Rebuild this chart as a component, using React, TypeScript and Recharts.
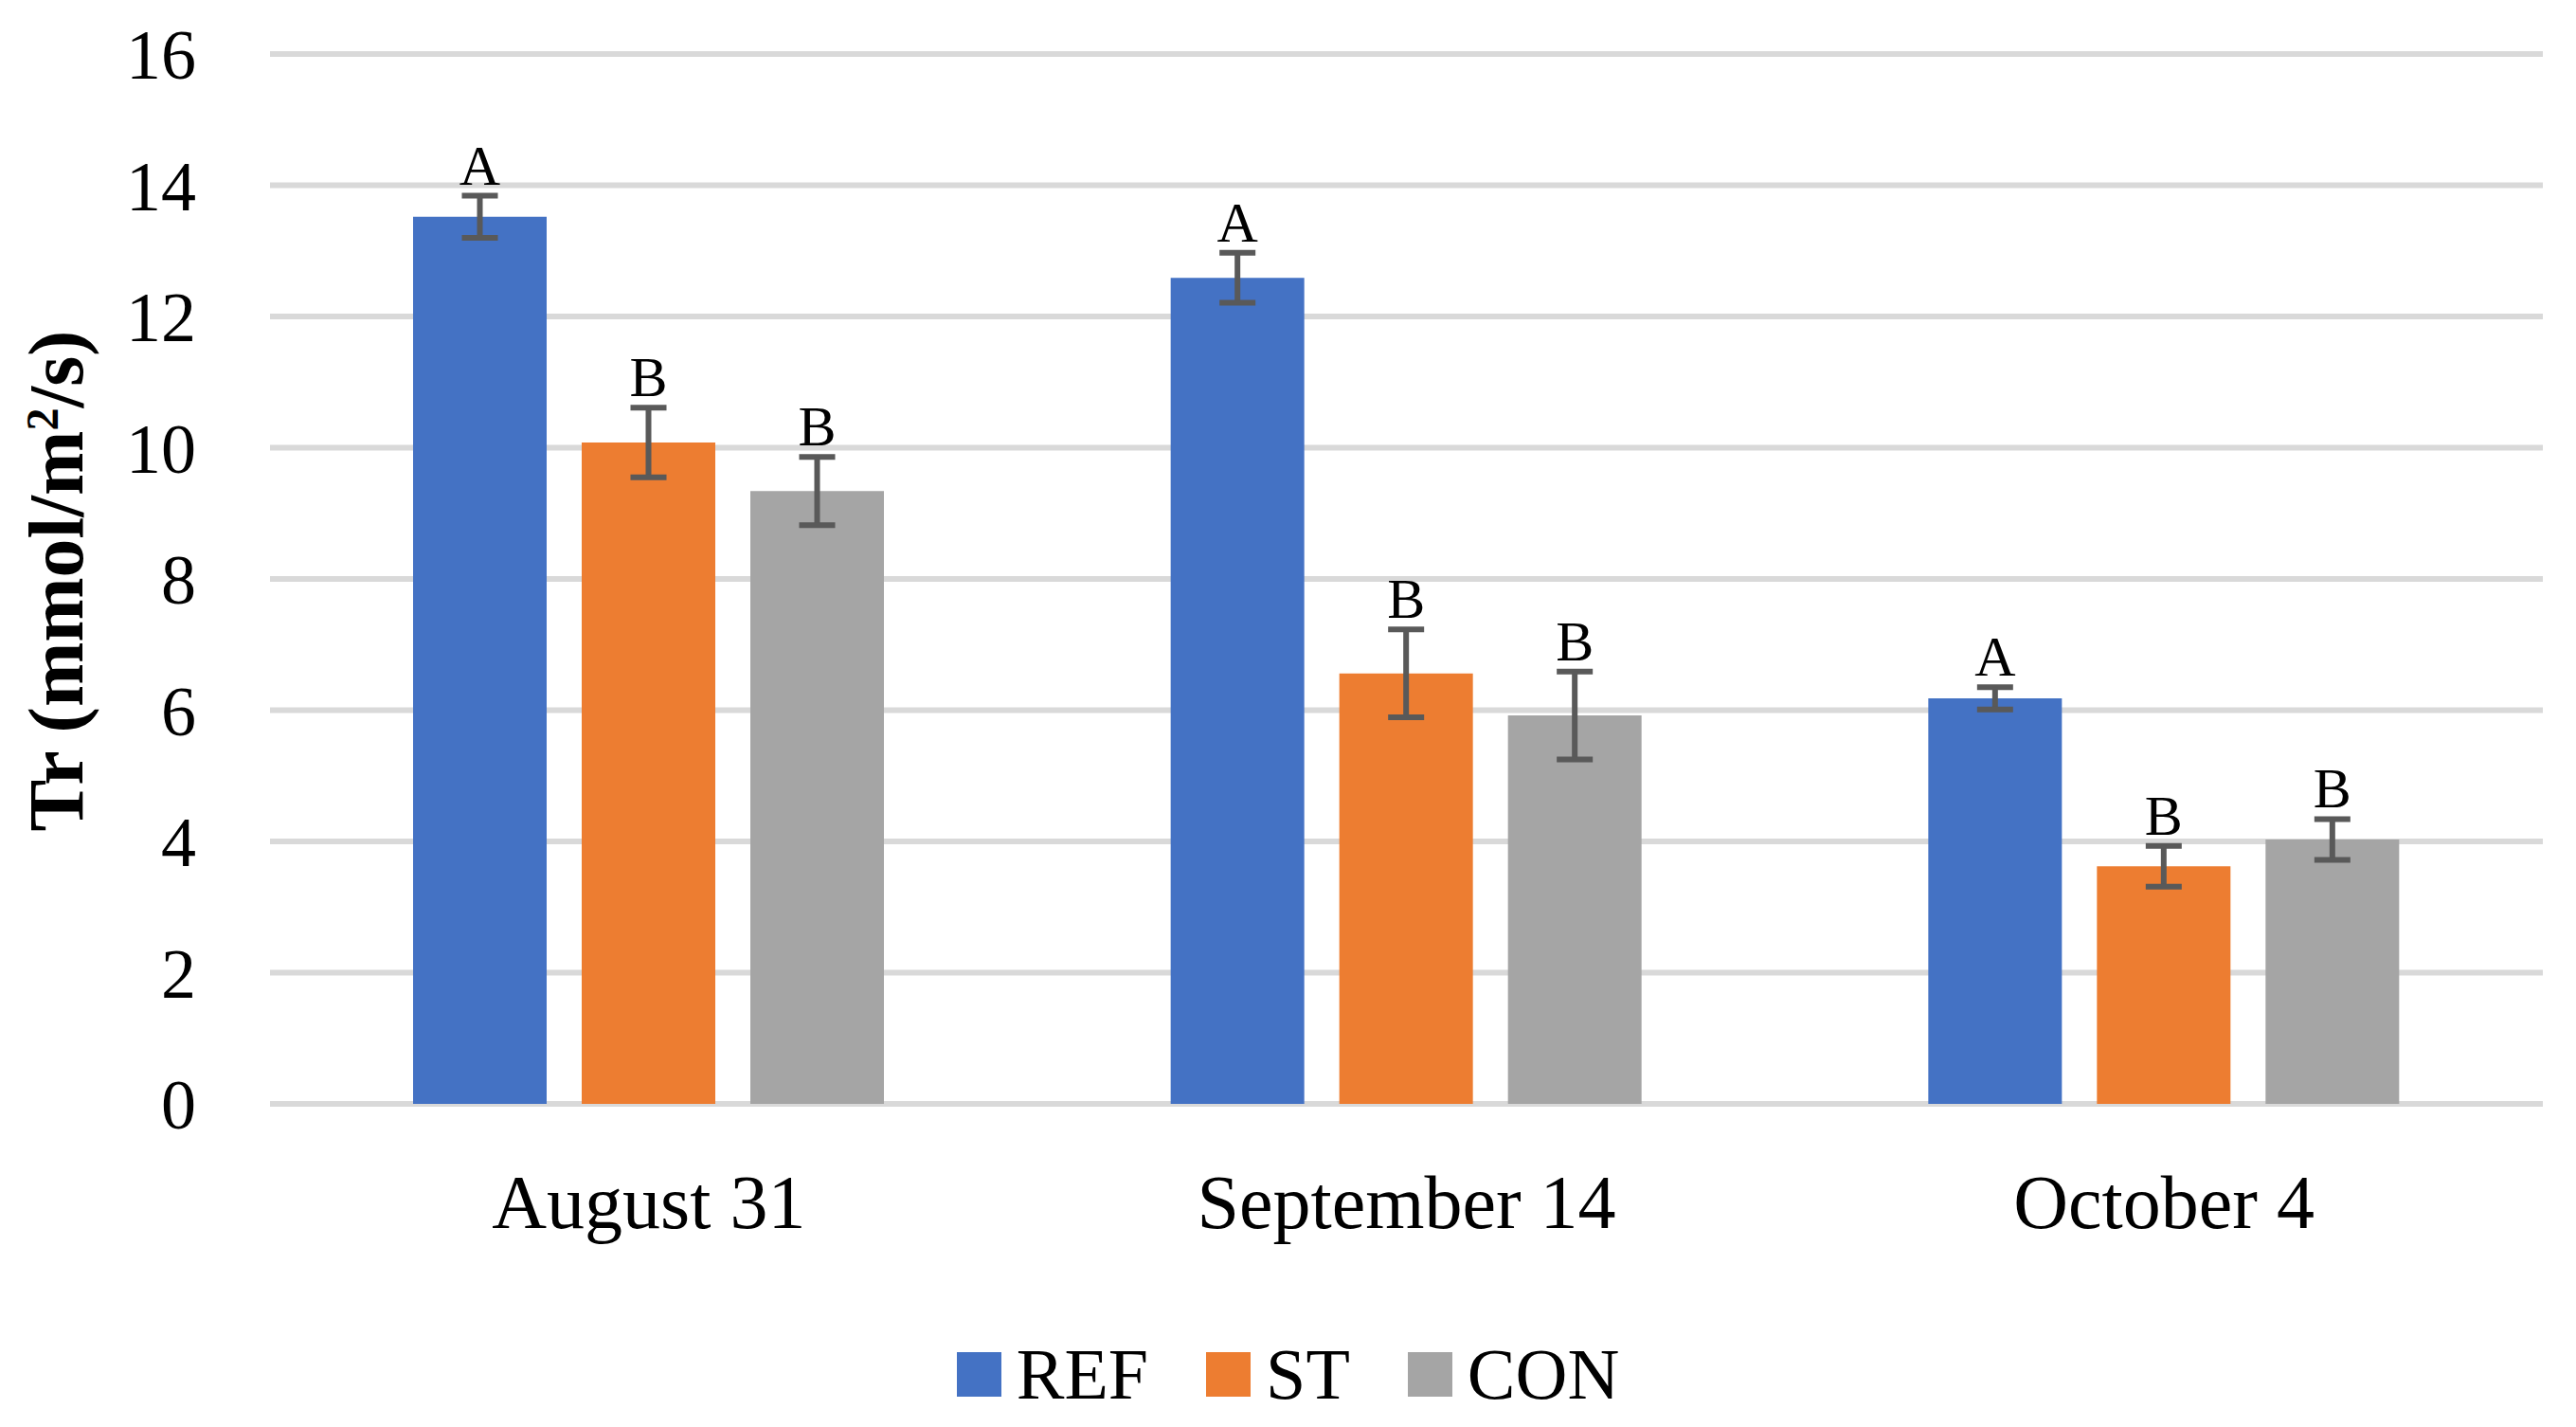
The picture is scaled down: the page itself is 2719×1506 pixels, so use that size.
import React from "react";
import {
  Bar,
  BarChart,
  CartesianGrid,
  ErrorBar,
  LabelList,
  Legend,
  XAxis,
  YAxis,
} from "recharts";

const CATEGORIES = ["August 31", "September 14", "October 4"];
const SERIES_NAMES = ["REF", "ST", "CON"];

const REF = [13.52, 12.59, 6.18];
const REF_ERR = [0.32, 0.38, 0.17];
const REF_SIG = ["A", "A", "A"];

const ST = [10.08, 6.56, 3.62];
const ST_ERR = [0.53, 0.67, 0.31];
const ST_SIG = ["B", "B", "B"];

const CON = [9.34, 5.92, 4.03];
const CON_ERR = [0.52, 0.67, 0.31];
const CON_SIG = ["B", "B", "B"];

const Y_TICKS = [0, 2, 4, 6, 8, 10, 12, 14, 16];

const COLORS = ["#4472C4", "#ED7D31", "#A5A5A5"];
const SERIF = "'Liberation Serif', 'Times New Roman', serif";

const VALUES = [REF, ST, CON];
const ERRORS = [REF_ERR, ST_ERR, CON_ERR];
const SIGS = [REF_SIG, ST_SIG, CON_SIG];

const data = CATEGORIES.map((category, i) => {
  const row: Record<string, string | number> = { category };
  SERIES_NAMES.forEach((name, s) => {
    row[name] = VALUES[s][i];
    row[name + "_err"] = ERRORS[s][i];
    row[name + "_sig"] = SIGS[s][i];
  });
  return row;
});

// letter sits just above the top of the error bar
const sigLabel = (s: number) => (props: any) => {
  const { x, y, width, height, value, index } = props;
  const v = VALUES[s][index];
  const pxPerUnit = Number(height) / v;
  const errTop = Number(y) - ERRORS[s][index] * pxPerUnit;
  return (
    <text
      x={Number(x) + Number(width) / 2}
      y={errTop - 12}
      textAnchor="middle"
      fontFamily={SERIF}
      fontSize={60}
      fill="#000"
    >
      {value}
    </text>
  );
};

const yLabel = () => (
  <text
    x={87}
    y={613}
    transform="rotate(-90 87 613)"
    textAnchor="middle"
    fontFamily={SERIF}
    fontWeight="bold"
    fontSize={82}
    fill="#000"
  >
    Tr (mmol/m
    <tspan dy={-26} fontSize={48}>
      2
    </tspan>
    <tspan dy={26}>/s)</tspan>
  </text>
);

const renderLegend = (props: any) => {
  const items = [...(props.payload || [])].sort(
    (a: any, b: any) => SERIES_NAMES.indexOf(a.value) - SERIES_NAMES.indexOf(b.value)
  );
  return (
    <div
      style={{
        display: "flex",
        justifyContent: "center",
        alignItems: "center",
        gap: 61,
        height: 76,
        fontFamily: SERIF,
        fontSize: 76,
        lineHeight: 1,
      }}
    >
      {items.map((item: any) => (
        <div key={item.value} style={{ display: "flex", alignItems: "center" }}>
          <span
            style={{
              width: 47,
              height: 47,
              background: item.color,
              display: "inline-block",
              marginRight: 16,
            }}
          />
          <span>{item.value}</span>
        </div>
      ))}
    </div>
  );
};

export default function App() {
  return (
    <div style={{ position: "absolute", left: 0, top: 0, width: 2719, height: 1506, background: "#fff" }}>
      <BarChart
        width={2719}
        height={1506}
        data={data}
        margin={{ top: 57, right: 35, bottom: 0, left: 0 }}
        barSize={141}
        barGap={37}
      >
        <CartesianGrid vertical={false} stroke="#D9D9D9" strokeWidth={6} />
        <XAxis
          dataKey="category"
          height={341}
          axisLine={false}
          tickLine={false}
          tickSize={0}
          tickMargin={74}
          tick={{ fill: "#000", fontSize: 80, fontFamily: SERIF }}
        />
        <YAxis
          width={285}
          domain={[0, 16]}
          ticks={Y_TICKS}
          interval={0}
          axisLine={false}
          tickLine={false}
          tickSize={0}
          tickMargin={78}
          tick={{ fill: "#000", fontSize: 74, fontFamily: SERIF }}
          label={yLabel}
        />
        <Legend
          layout="horizontal"
          verticalAlign="middle"
          align="center"
          wrapperStyle={{ top: 1412, left: 0, width: 2719, height: 76 }}
          content={renderLegend}
        />
        {SERIES_NAMES.map((name, s) => (
          <Bar key={name} dataKey={name} name={name} fill={COLORS[s]} isAnimationActive={false}>
            <ErrorBar
              dataKey={name + "_err"}
              direction="y"
              width={19}
              strokeWidth={6}
              stroke="#595959"
              isAnimationActive={false}
            />
            <LabelList dataKey={name + "_sig"} content={sigLabel(s)} />
          </Bar>
        ))}
      </BarChart>
    </div>
  );
}
